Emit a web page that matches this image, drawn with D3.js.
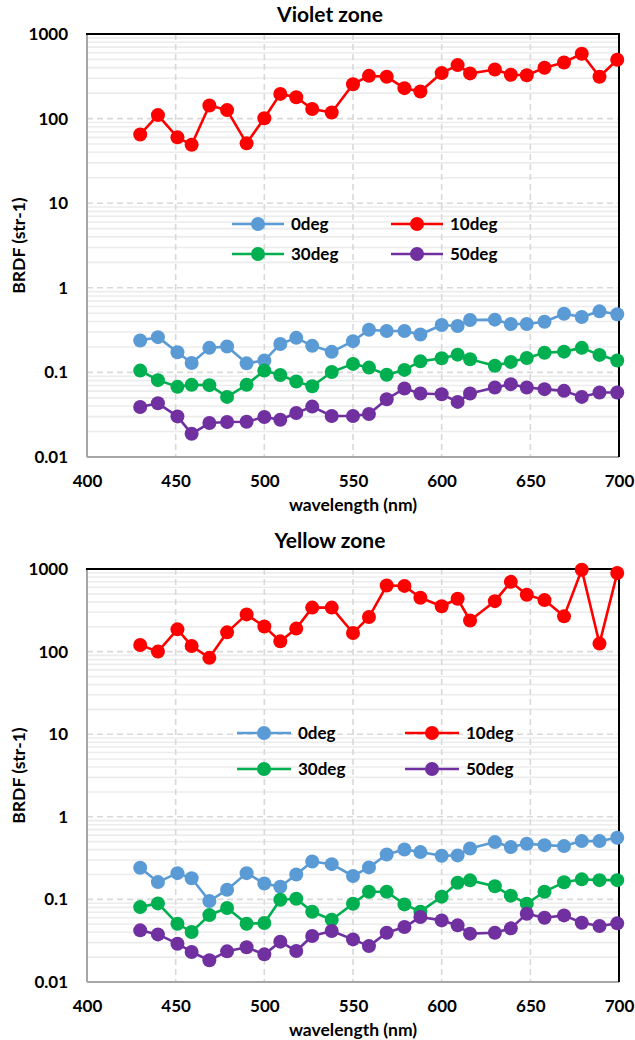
<!DOCTYPE html>
<html>
<head>
<meta charset="utf-8">
<script src="https://cdn.jsdelivr.net/npm/d3@7"></script>
<style>
  html, body { margin: 0; padding: 0; background: #ffffff; }
  svg { display: block; font-family: Lato, "Open Sans", sans-serif; }
</style>
</head>
<body>
<svg id="chart" width="635" height="1040"></svg>
<script>
// Measurement wavelengths (nm)
const wavelengths = [430, 440, 451, 459, 469, 479, 490, 500, 509, 518, 527, 538, 550, 559,
                     569, 579, 588, 600, 609, 616, 630, 639, 648, 658, 669, 679, 689, 699];

// BRDF (str-1), violet zone
const violet0  = [0.238, 0.261, 0.173, 0.129, 0.195, 0.202, 0.128, 0.138, 0.217, 0.256, 0.206, 0.175, 0.234, 0.319,
                  0.308, 0.308, 0.281, 0.363, 0.353, 0.416, 0.420, 0.373, 0.373, 0.397, 0.494, 0.451, 0.527, 0.486];
const violet10 = [65, 110, 60, 49, 143, 126, 51, 101, 196, 179, 130, 118, 255, 320,
                  312, 229, 209, 345, 429, 342, 381, 330, 326, 399, 461, 584, 312, 496];
const violet30 = [0.105, 0.081, 0.0675, 0.0713, 0.0707, 0.0513, 0.0713, 0.105, 0.093, 0.078, 0.0687, 0.101, 0.126, 0.114,
                  0.0938, 0.107, 0.135, 0.147, 0.162, 0.143, 0.120, 0.133, 0.148, 0.171, 0.176, 0.195, 0.161, 0.138];
const violet50 = [0.039, 0.0431, 0.0302, 0.0188, 0.0252, 0.0259, 0.0261, 0.0297, 0.0276, 0.0331, 0.0394, 0.0305, 0.0305, 0.0322,
                  0.0482, 0.0645, 0.0562, 0.0552, 0.0448, 0.0562, 0.0662, 0.0726, 0.0662, 0.0634, 0.0605, 0.0513, 0.0578, 0.0578];

// BRDF (str-1), yellow zone
const yellow0  = [0.242, 0.162, 0.208, 0.180, 0.0955, 0.131, 0.208, 0.156, 0.142, 0.200, 0.288, 0.267, 0.192, 0.244,
                  0.350, 0.402, 0.374, 0.337, 0.341, 0.414, 0.494, 0.430, 0.471, 0.454, 0.442, 0.508, 0.508, 0.557];
const yellow10 = [120, 100, 186, 117, 84, 171, 282, 201, 133, 190, 341, 341, 168, 262,
                  630, 624, 448, 354, 436, 238, 408, 699, 488, 420, 267, 981, 125, 893];
const yellow30 = [0.0807, 0.0895, 0.0508, 0.0403, 0.0646, 0.0786, 0.0508, 0.0518, 0.0991, 0.102, 0.071, 0.0567, 0.0887, 0.124,
                  0.124, 0.087, 0.071, 0.108, 0.159, 0.170, 0.144, 0.111, 0.0887, 0.124, 0.161, 0.175, 0.171, 0.171];
const yellow50 = [0.0422, 0.0377, 0.0291, 0.0231, 0.0183, 0.0235, 0.0263, 0.0216, 0.0308, 0.0237, 0.036, 0.0414, 0.0328, 0.0272,
                  0.0395, 0.0463, 0.0611, 0.0557, 0.0485, 0.0385, 0.0395, 0.0446, 0.0671, 0.060, 0.064, 0.0522, 0.0476, 0.0513];

// Series names and axis ticks
const seriesNames = ["0deg", "10deg", "30deg", "50deg"];
const seriesColors = ["#5b9bd5", "#ff0000", "#00b050", "#7030a0"];
const xTicks = [400, 450, 500, 550, 600, 650, 700];
const yTicks = [0.01, 0.1, 1, 10, 100, 1000];
const yTickLabels = ["0.01", "0.1", "1", "10", "100", "1000"];
const panelTitles = ["Violet zone", "Yellow zone"];

const svg = d3.select("#chart");

const panels = [
  { title: panelTitles[0], series: [violet0, violet10, violet30, violet50],
    top: 34, bottom: 457, titleY: 22, legendX: [258, 417], legendY: [224, 254], legendHalf: 26 },
  { title: panelTitles[1], series: [yellow0, yellow10, yellow30, yellow50],
    top: 569, bottom: 982, titleY: 548, legendX: [264, 432], legendY: [733, 769], legendHalf: 27 }
];

const left = 87, right = 619;

panels.forEach(p => {
  const g = svg.append("g");
  const x = d3.scaleLinear().domain([400, 700]).range([left, right]);
  const y = d3.scaleLog().domain([0.01, 1000]).range([p.bottom, p.top]);

  // Minor horizontal gridlines (2..9 within each decade)
  const minor = [];
  for (let d = -2; d < 3; d++) for (let k = 2; k <= 9; k++) minor.push(k * Math.pow(10, d));
  g.append("g").selectAll("line").data(minor).join("line")
    .attr("x1", left).attr("x2", right)
    .attr("y1", d => y(d)).attr("y2", d => y(d))
    .attr("stroke", "#ececec").attr("stroke-width", 1.6);

  // Major horizontal gridlines (decades), dashed
  g.append("g").selectAll("line").data(yTicks.slice(1, -1)).join("line")
    .attr("x1", left).attr("x2", right)
    .attr("y1", d => y(d)).attr("y2", d => y(d))
    .attr("stroke", "#d9d9d9").attr("stroke-width", 1.6).attr("stroke-dasharray", "6,4");

  // Vertical gridlines, dashed
  g.append("g").selectAll("line").data(xTicks.slice(1, -1)).join("line")
    .attr("x1", d => x(d)).attr("x2", d => x(d))
    .attr("y1", p.top).attr("y2", p.bottom)
    .attr("stroke", "#d9d9d9").attr("stroke-width", 1.6).attr("stroke-dasharray", "6,4");

  // Plot frame: grey left/bottom, black top/right
  g.append("line").attr("x1", left).attr("x2", left).attr("y1", p.top).attr("y2", p.bottom)
    .attr("stroke", "#a6a6a6").attr("stroke-width", 2);
  g.append("line").attr("x1", left).attr("x2", right).attr("y1", p.bottom).attr("y2", p.bottom)
    .attr("stroke", "#a6a6a6").attr("stroke-width", 2);
  g.append("line").attr("x1", left - 1).attr("x2", right + 1).attr("y1", p.top).attr("y2", p.top)
    .attr("stroke", "#000").attr("stroke-width", 2);
  g.append("line").attr("x1", right).attr("x2", right).attr("y1", p.top).attr("y2", p.bottom)
    .attr("stroke", "#000").attr("stroke-width", 2);

  // Axis tick labels via d3 axes
  const xAxis = d3.axisBottom(x).tickValues(xTicks).tickSize(0).tickPadding(18);
  const xa = g.append("g").attr("transform", `translate(0,${p.bottom})`).call(xAxis);
  xa.select(".domain").remove();
  xa.selectAll("text").attr("font-size", 17).attr("font-weight", 700)
    .attr("font-family", "Lato, sans-serif").attr("fill", "#000");

  const yAxis = d3.axisLeft(y).tickValues(yTicks).tickFormat((d, i) => yTickLabels[i]).tickSize(0).tickPadding(19);
  const ya = g.append("g").attr("transform", `translate(${left},0)`).call(yAxis);
  ya.select(".domain").remove();
  ya.selectAll("text").attr("font-size", 17).attr("font-weight", 700)
    .attr("font-family", "Lato, sans-serif").attr("fill", "#000");

  // Axis titles and panel title
  g.append("text").attr("x", 353).attr("y", p.bottom + 54).attr("text-anchor", "middle")
    .attr("font-size", 17.5).attr("font-weight", 700).text("wavelength (nm)");
  g.append("text").attr("transform", `translate(25,${(p.top + p.bottom) / 2}) rotate(-90)`)
    .attr("text-anchor", "middle").attr("font-size", 17.5).attr("font-weight", 700).text("BRDF (str-1)");
  g.append("text").attr("x", 330).attr("y", p.titleY).attr("text-anchor", "middle")
    .attr("font-size", 21).attr("font-weight", 700).text(p.title);

  // Series lines and markers
  const line = d3.line().x((d, i) => x(wavelengths[i])).y(d => y(d));
  p.series.forEach((vals, si) => {
    const sg = g.append("g");
    sg.append("path").datum(vals).attr("d", line)
      .attr("fill", "none").attr("stroke", seriesColors[si]).attr("stroke-width", 2.6)
      .attr("stroke-linejoin", "round");
    sg.selectAll("circle").data(vals).join("circle")
      .attr("cx", (d, i) => x(wavelengths[i])).attr("cy", d => y(d)).attr("r", 7)
      .attr("fill", seriesColors[si]);
  });

  // Legend (2 x 2)
  seriesNames.forEach((name, si) => {
    const cx = p.legendX[si % 2], cy = p.legendY[Math.floor(si / 2)];
    const lg = g.append("g");
    lg.append("line").attr("x1", cx - p.legendHalf).attr("x2", cx + p.legendHalf)
      .attr("y1", cy).attr("y2", cy).attr("stroke", seriesColors[si]).attr("stroke-width", 2.6);
    lg.append("circle").attr("cx", cx).attr("cy", cy).attr("r", 7).attr("fill", seriesColors[si]);
    lg.append("text").attr("x", cx + p.legendHalf + 7).attr("y", cy).attr("dy", "0.35em")
      .attr("font-size", 17).attr("font-weight", 700).text(name);
  });
});
</script>
</body>
</html>
